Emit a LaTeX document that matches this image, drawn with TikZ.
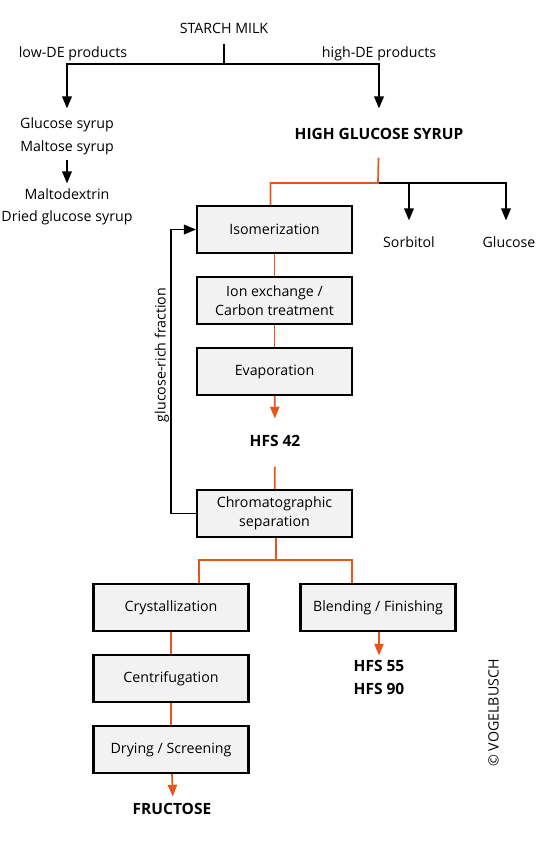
\documentclass[tikz,border=0pt]{standalone}
\usepackage{fontspec}
\setmainfont{Open Sans}
\usepackage{pgf,tikz}
\usetikzlibrary{arrows}
\definecolor{flowor}{RGB}{232,84,26}
\definecolor{boxgray}{RGB}{242,242,242}

\begin{document}
\begin{tikzpicture}[line cap=butt,line join=miter,>=triangle 45,x=1pt,y=-1pt,
  font=\fontsize{14.2}{16}\selectfont,
  txt/.style={inner sep=2pt,text height=12pt,text depth=1pt},
  prod/.style={txt,font=\fontsize{15.5}{17}\selectfont\bfseries},
  stepbox/.style={draw=black,line width=2.2pt,fill=boxgray,minimum width=155pt,minimum height=47pt,align=center,inner sep=2pt},
  blk/.style={draw=black,line width=1.8pt},
  flow/.style={draw=flowor,line width=1.7pt}]
\useasboundingbox (0,0) rectangle (537,843);
% raw material and side products
\node[txt] (starch) at (224,28) {STARCH MILK};
\node[txt] (lowde) at (73,52) {low-DE products};
\node[txt] (highde) at (379,52) {high-DE products};
\node[txt] (gsyr) at (67,123) {Glucose syrup};
\node[txt] (msyr) at (67,146) {Maltose syrup};
\node[txt] (mdex) at (67,194) {Maltodextrin};
\node[txt] (dgsyr) at (67,216) {Dried glucose syrup};
\node[prod] (hgs) at (379,134) {HIGH GLUCOSE SYRUP};
\node[txt] (sorb) at (409,242) {Sorbitol};
\node[txt] (gluc) at (509,242) {Glucose};
\coordinate (split) at (224,64);
\coordinate (hsplit) at (378,183);
% process steps
\node[stepbox] (iso) at (274.5,229.5) {Isomerization};
\node[stepbox] (ionex) at (274.5,300.5) {Ion exchange /\\[3pt]Carbon treatment};
\node[stepbox] (evap) at (274.5,371.5) {Evaporation};
\node[prod] (hfs42) at (275,441) {HFS 42};
\node[stepbox] (chrom) at (274.5,513.5) {Chromatographic\\[3pt]separation};
\node[txt,rotate=90] (grf) at (160,355) {glucose-rich fraction};
\coordinate (csplit) at (276,560);
\node[stepbox] (cryst) at (171,607.5) {Crystallization};
\node[stepbox] (blend) at (378,607.5) {Blending / Finishing};
\node[prod] (hfs55) at (379,666) {HFS 55};
\node[prod] (hfs90) at (379,689) {HFS 90};
\node[stepbox] (centr) at (171,678.5) {Centrifugation};
\node[stepbox] (dry) at (171,749.5) {Drying / Screening};
\node[prod] (fruct) at (172,809) {FRUCTOSE};
\node[txt,rotate=90] (copy) at (493,713) {© VOGELBUSCH};
% black connectors
\draw[blk,shorten <=7pt] (starch) -- (split);
\draw[blk,->,shorten >=6pt] (split) -| (gsyr);
\draw[blk,->,shorten >=17pt] (split) -| (hgs);
\draw[blk,->,shorten <=5pt,shorten >=2pt] (msyr) -- (mdex);
\draw[blk,->,shorten >=13pt] (hsplit) -| (sorb);
\draw[blk,->,shorten >=13pt] (hsplit) -| ([xshift=-3pt]gluc.north);
\draw[blk,->] (chrom.west) -- ++(-25,0) |- (iso.west);
% orange flow
\draw[flow,shorten <=15pt] (hgs) -- (hsplit) -| ([xshift=-4pt]iso.north);
\draw[flow] (iso) -- (ionex);
\draw[flow] (ionex) -- (evap);
\draw[flow,->,shorten >=14pt] (evap) -- (hfs42);
\draw[flow,shorten <=17pt] (hfs42) -- (chrom);
\draw[flow] ([xshift=1.5pt]chrom.south) -- (csplit) -| ([xshift=28pt]cryst.north);
\draw[flow] (csplit) -| ([xshift=-26pt]blend.north);
\draw[flow] (cryst) -- (centr);
\draw[flow] (centr) -- (dry);
\draw[flow,->,shorten >=4pt] ([xshift=1pt]dry.south) -- ([xshift=1pt]fruct.north);
\draw[flow,->,shorten >=2pt] ([xshift=1pt]blend.south) -- (hfs55);
\end{tikzpicture}
\end{document}
